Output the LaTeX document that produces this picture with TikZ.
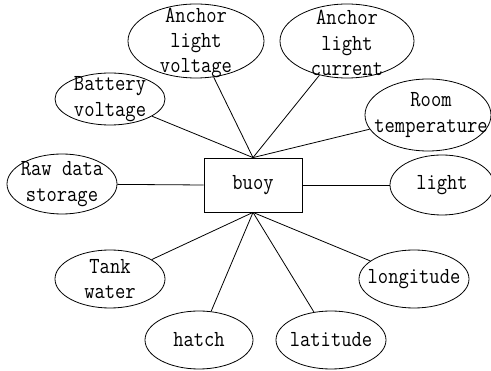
\documentclass[tikz,border=0pt]{standalone}
\usepackage{fontspec}
\usetikzlibrary{shapes.geometric}
\tikzset{
    attr/.style = {draw, ellipse, line width = 0.8pt, inner sep = 0pt},
    attrtext/.style = {font = \ttfamily\fontsize{20}{22}\selectfont, align = center, inner sep = 0pt, yscale = 1.15, transform shape},
    entity/.style = {draw, rectangle, line width = 0.8pt, minimum width = 98pt, minimum height = 54pt},
    link/.style = {line width = 0.8pt}
}
\begin{document}
\begin{tikzpicture}[x = 1pt, y = -1pt]
                \useasboundingbox (0, 0) rectangle (491, 371);
                % central entity
                \node[entity] (buoy) at (253, 185) {};
                \node[attrtext] (buoyt) at (buoy.center) {buoy};
                % attributes, upper half
                \node[attr, minimum width = 136pt, minimum height = 74pt] (alv) at (196, 41) {};
                \node[attrtext] (alvt) at (196, 43) {Anchor\\light\\voltage};
                \node[attr, minimum width = 134pt, minimum height = 74pt] (alc) at (347, 41) {};
                \node[attrtext] (alct) at (347, 43) {Anchor\\light\\current};
                \node[attr, minimum width = 110pt, minimum height = 52pt] (batt) at (110, 99) {};
                \node[attrtext] (battt) at (batt.center) {Battery\\voltage};
                \node[attr, minimum width = 126pt, minimum height = 72pt] (room) at (428, 115) {};
                \node[attrtext] (roomt) at (431, 115) {Room\\temperature};
                % attributes, middle row
                \node[attr, minimum width = 110pt, minimum height = 60pt] (raw) at (62, 184) {};
                \node[attrtext] (rawt) at (raw.center) {Raw data\\storage};
                \node[attr, minimum width = 104pt, minimum height = 60pt] (light) at (442, 185) {};
                \node[attrtext] (lightt) at (light.center) {light};
                % attributes, lower half
                \node[attr, minimum width = 110pt, minimum height = 58pt] (tank) at (110, 279) {};
                \node[attrtext] (tankt) at (tank.center) {Tank\\water};
                \node[attr, minimum width = 108pt, minimum height = 58pt] (hatch) at (199, 340) {};
                \node[attrtext] (hatcht) at (hatch.center) {hatch};
                \node[attr, minimum width = 110pt, minimum height = 58pt] (lat) at (331, 340) {};
                \node[attrtext] (latt) at (lat.center) {latitude};
                \node[attr, minimum width = 110pt, minimum height = 58pt] (lon) at (414, 279) {};
                \node[attrtext] (lont) at (lon.center) {longitude};
                % links
                \draw[link] (buoy.north) -- (alv);
                \draw[link] (buoy.north) -- (alc);
                \draw[link] (buoy.north) -- (batt);
                \draw[link] (buoy.north) -- (room);
                \draw[link] (buoy.west) -- (raw);
                \draw[link] (buoy.east) -- (light);
                \draw[link] (buoy.south) -- (tank);
                \draw[link] (buoy.south) -- (hatch);
                \draw[link] (buoy.south) -- (lat);
                \draw[link] (buoy.south) -- (lon);
\end{tikzpicture}
\end{document}
